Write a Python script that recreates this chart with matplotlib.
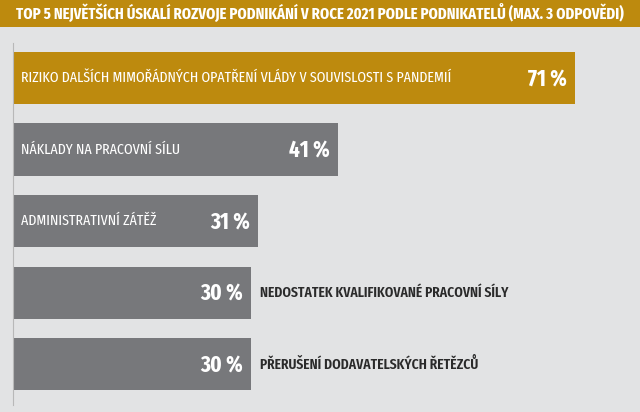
import matplotlib.pyplot as plt
from matplotlib import font_manager

# data
labels = ['RIZIKO DALŠÍCH MIMOŘÁDNÝCH OPATŘENÍ VLÁDY V SOUVISLOSTI S PANDEMIÍ',
          'NÁKLADY NA PRACOVNÍ SÍLU',
          'ADMINISTRATIVNÍ ZÁTĚŽ',
          'NEDOSTATEK KVALIFIKOVANÉ PRACOVNÍ SÍLY',
          'PŘERUŠENÍ DODAVATELSKÝCH ŘETĚZCŮ']
values = [71, 41, 31, 30, 30]
title = 'TOP 5 NEJVĚTŠÍCH ÚSKALÍ ROZVOJE PODNIKÁNÍ V ROCE 2021 PODLE PODNIKATELŮ (MAX. 3 ODPOVĚDI)'

gold = '#BD8A0E'
grey = '#77787B'
bg = '#E2E3E4'

# pick a condensed family if there is one
names = {f.name for f in font_manager.fontManager.ttflist}
wanted = ['Fira Sans Extra Condensed', 'Fira Sans Condensed', 'PT Sans Narrow',
          'Open Sans Condensed', 'Roboto Condensed', 'Barlow Condensed',
          'Liberation Sans Narrow']
font = next((f for f in wanted if f in names), 'DejaVu Sans')
plt.rcParams['font.family'] = [font, 'DejaVu Sans']

fig = plt.figure(figsize=(6.4, 4.12), dpi=100)
fig.patch.set_facecolor(bg)


def fit(t, width_px):
    # scale a text so its width matches the reference
    fig.canvas.draw()
    w = t.get_window_extent().width
    t.set_fontsize(t.get_fontsize() * width_px / w)
    return t.get_fontsize()


# title bar
fig.patches.append(plt.Rectangle((0, 1 - 27 / 412), 1, 27 / 412, transform=fig.transFigure,
                                 facecolor=gold, edgecolor='none'))
tt = fig.text(16 / 640, 1 - 13 / 412, title, color='white', fontsize=10, fontweight='bold',
              va='center', ha='left')
fit(tt, 604)

ax = fig.add_axes([13 / 640, 7 / 412, 627 / 640, 362 / 412])
ax.set_facecolor(bg)
ypos = list(range(len(values)))
colors = [gold] + [grey] * (len(values) - 1)
ax.barh(ypos, values, height=0.73, color=colors, left=0)
ax.set_xlim(0, 79.2)
ax.set_ylim(4.57, -0.49)

px = 79.2 / 627  # data units per pixel
pct_texts, in_texts, out_texts = [], [], []
for i, (lab, v) in enumerate(zip(labels, values)):
    pct_texts.append(ax.text(v - 8 * px, i + 0.02, f'{v} %', color='white', fontsize=14,
                             fontweight='bold', ha='right', va='center'))
    if v > 30:
        in_texts.append(ax.text(8 * px, i, lab, color='white', fontsize=8,
                                ha='left', va='center'))
    else:
        out_texts.append(ax.text(v + 9 * px, i, lab, color='#2A2A2A', fontsize=8,
                                 fontweight='semibold', ha='left', va='center'))

s = fit(pct_texts[0], 39)
for t in pct_texts:
    t.set_fontsize(s)
s = fit(in_texts[0], 434)
for t in in_texts:
    t.set_fontsize(s)
s = fit(out_texts[0], 250)
for t in out_texts:
    t.set_fontsize(s)

for sp in ['top', 'right', 'bottom']:
    ax.spines[sp].set_visible(False)
ax.spines['left'].set_color('#B8B8B8')
ax.spines['left'].set_linewidth(0.8)
ax.set_xticks([])
ax.set_yticks([])

fig.savefig('out.png', dpi=100, facecolor=bg)
